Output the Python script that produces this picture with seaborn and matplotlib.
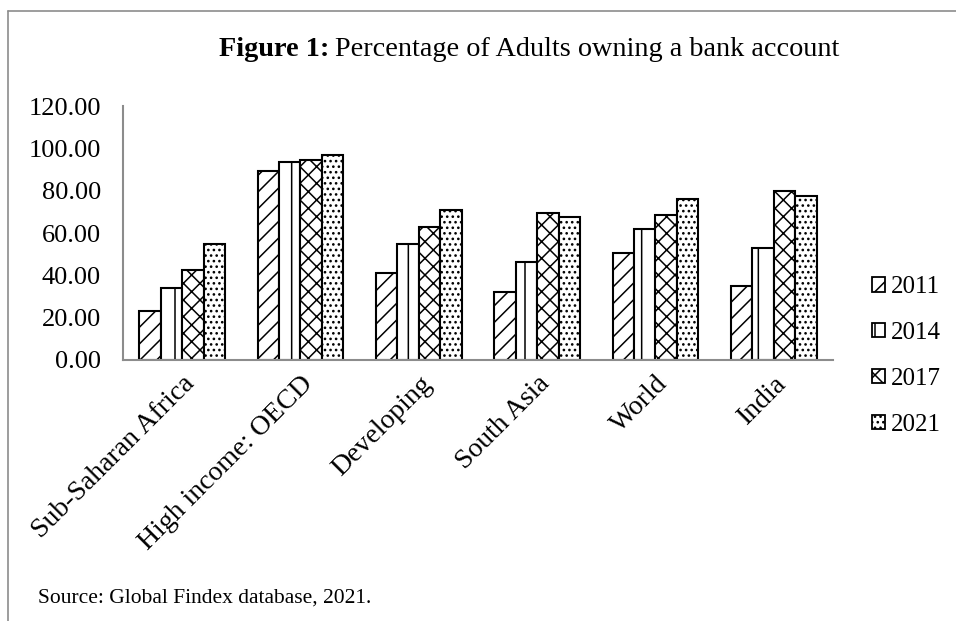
import seaborn as sns
import matplotlib.pyplot as plt
import pandas as pd
from matplotlib.lines import Line2D
from matplotlib.patches import Patch
from matplotlib.ticker import FormatStrFormatter

# Data
regions = ["Sub-Saharan Africa", "High income: OECD", "Developing", "South Asia", "World", "India"]
years = ["2011", "2014", "2017", "2021"]
v2011 = [23.0, 89.5, 41.3, 32.0, 50.5, 35.0]
v2014 = [34.0, 93.4, 54.6, 46.3, 61.8, 53.0]
v2017 = [42.5, 94.3, 62.8, 69.3, 68.3, 79.8]
v2021 = [54.9, 96.8, 71.0, 67.5, 76.1, 77.3]

df = pd.DataFrame({"Region": regions, "2011": v2011, "2014": v2014, "2017": v2017, "2021": v2021})
df = df.melt(id_vars="Region", var_name="Year", value_name="Percent")

sns.set_style("white")
plt.rcParams["font.family"] = ["Liberation Serif", "DejaVu Serif"]
plt.rcParams["text.color"] = "black"
plt.rcParams["xtick.color"] = "black"
plt.rcParams["ytick.color"] = "black"
plt.rcParams["hatch.linewidth"] = 1.1

W, H = 956, 621
fig = plt.figure(figsize=(W / 100, H / 100), dpi=100)
ax = fig.add_axes([123 / W, 1 - 360 / H, (833 - 123) / W, (360 - 106) / H])

sns.barplot(data=df, x="Region", y="Percent", hue="Year", hue_order=years,
            color="white", width=0.725, saturation=1, ax=ax, legend=False)

hatches = ["//", "|", "xx", "..."]
for cont, h in zip(ax.containers, hatches):
    for bar in cont:
        bar.set_facecolor("white")
        bar.set_edgecolor("black")
        bar.set_linewidth(1.5)
        bar.set_hatch(h)

ax.set_ylim(0, 120)
ax.set_yticks(range(0, 121, 20))
ax.yaxis.set_major_formatter(FormatStrFormatter("%.2f"))
ax.set_xlim(-0.5, len(regions) - 0.5)
ax.set_xlabel("")
ax.set_ylabel("")
ax.tick_params(axis="y", length=0, labelsize=19, pad=16)
ax.tick_params(axis="x", length=0, labelsize=20, pad=8)
for lab in ax.get_xticklabels():
    lab.set_rotation(45)
    lab.set_ha("right")
    lab.set_rotation_mode("anchor")

sns.despine(ax=ax, top=True, right=True)
for side in ["left", "bottom"]:
    ax.spines[side].set_color("#8c8c8c")
    ax.spines[side].set_linewidth(1.5)

# Legend with hatched small squares
handles = [Patch(facecolor="white", edgecolor="black", hatch=h, linewidth=1.3) for h in hatches]
fig.legend(handles, years, loc="center left", bbox_to_anchor=(872 / W, 1 - 356 / H),
           frameon=False, fontsize=18, handlelength=0.5, handleheight=0.5,
           handletextpad=0.25, labelspacing=0.95, borderpad=0, borderaxespad=0)

# Title with bold prefix
t1 = fig.text(219 / W, 1 - 50 / H, "Figure 1:", ha="left", va="center", fontsize=20.3, fontweight="bold")
fig.canvas.draw()
bb = t1.get_window_extent()
fig.text((bb.x1 + 6) / W, 1 - 50 / H, "Percentage of Adults owning a bank account",
         ha="left", va="center", fontsize=20.3)

fig.text(38 / W, 1 - 598 / H, "Source: Global Findex database, 2021.",
         ha="left", va="center", fontsize=15.5)

# Outer frame (top and left edges visible)
fig.add_artist(Line2D([8 / W, 8 / W], [0, 1 - 11 / H], transform=fig.transFigure,
                      color="#8c8c8c", linewidth=1.2))
fig.add_artist(Line2D([8 / W, 1], [1 - 11 / H, 1 - 11 / H], transform=fig.transFigure,
                      color="#8c8c8c", linewidth=1.2))

fig.savefig("out.png", dpi=100)
